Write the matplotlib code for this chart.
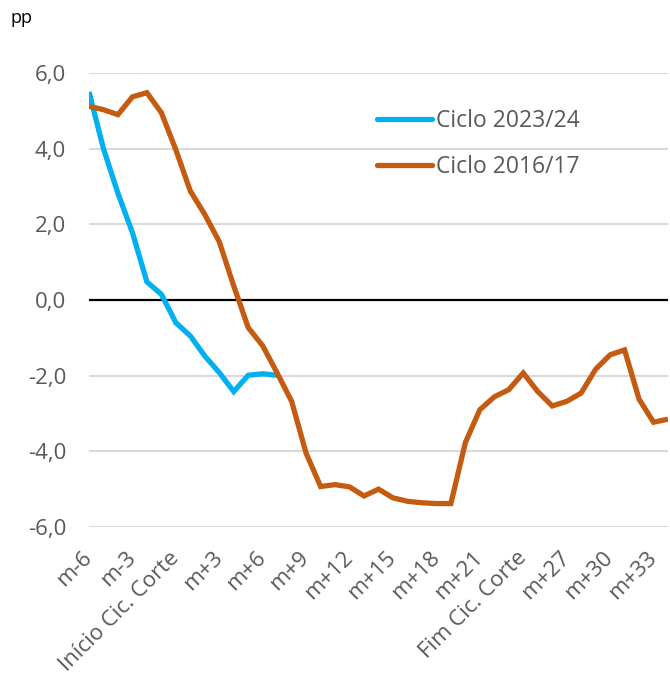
import matplotlib
matplotlib.use("Agg")
import matplotlib.pyplot as plt

plt.rcParams["font.family"] = ["Open Sans", "DejaVu Sans"]

# Months relative to the start of the rate-cut cycle (m-6 ... m+34)
categories = (["m-6", "m-5", "m-4", "m-3", "m-2", "m-1", "Início Cic. Corte"]
              + [f"m+{i}" for i in range(1, 24)]
              + ["Fim Cic. Corte"]
              + [f"m+{i}" for i in range(25, 35)])

ciclo_2023 = [5.50, 4.00, 2.82, 1.78, 0.48, 0.15, -0.60, -0.95, -1.48, -1.92,
              -2.42, -1.99, -1.95, -1.99]

ciclo_2016 = [5.12, 5.03, 4.90, 5.37, 5.48, 4.95, 3.97, 2.88, 2.26, 1.54,
              0.37, -0.73, -1.21, -1.93, -2.68, -4.05, -4.93, -4.88, -4.94, -5.18,
              -5.00, -5.23, -5.32, -5.36, -5.38, -5.38, -3.77, -2.90, -2.56, -2.37,
              -1.93, -2.42, -2.80, -2.68, -2.46, -1.83, -1.45, -1.32, -2.62, -3.23,
              -3.15]

y_ticks = [6.0, 4.0, 2.0, 0.0, -2.0, -4.0, -6.0]
tick_step = 3

grey = "#595959"
blue = "#00B0F0"
orange = "#C55A11"

fig = plt.figure(figsize=(6.70, 6.75), dpi=100)
ax = fig.add_axes([89 / 670, 1 - 527 / 675, (668 - 89) / 670, (527 - 73) / 675])

x_2016 = list(range(len(ciclo_2016)))
x_2023 = list(range(len(ciclo_2023)))

ax.set_ylim(-6, 6)
ax.set_xlim(0, len(categories) - 1)

for v in y_ticks:
    if v != 0:
        ax.axhline(v, color="#d9d9d9", lw=1.5, zorder=1)
ax.axhline(0, color="black", lw=1.6, zorder=2)

ax.plot(x_2023, ciclo_2023, color=blue, lw=3.8, solid_joinstyle="miter",
        solid_capstyle="butt", label="Ciclo 2023/24", zorder=3)
ax.plot(x_2016, ciclo_2016, color=orange, lw=3.8, solid_joinstyle="miter",
        solid_capstyle="butt", label="Ciclo 2016/17", zorder=4)

ax.set_yticks(y_ticks)
ax.set_yticklabels([f"{v:.1f}".replace(".", ",") for v in y_ticks],
                   color=grey, fontsize=16)
xt = list(range(0, len(categories), tick_step))
ax.set_xticks(xt)
ax.set_xticklabels([categories[i] for i in xt], rotation=45, ha="right",
                   va="center", rotation_mode="anchor", color=grey, fontsize=16)
ax.tick_params(axis="y", length=0, pad=16.5)
ax.tick_params(axis="x", length=0, pad=20)
for s in ax.spines.values():
    s.set_visible(False)

fig.text(10 / 670, 1 - 18 / 675, "pp", fontsize=13, color="black", va="center")

leg = ax.legend(loc="upper left", bbox_to_anchor=(368 / 670, 1 - 100 / 675),
                bbox_transform=fig.transFigure, frameon=False, fontsize=16.5,
                handlelength=2.4, handletextpad=0.15, labelspacing=0.94,
                borderaxespad=0)
for t in leg.get_texts():
    t.set_color(grey)
for h in leg.get_lines():
    h.set_solid_capstyle("round")

fig.savefig("out.png", dpi=100)
